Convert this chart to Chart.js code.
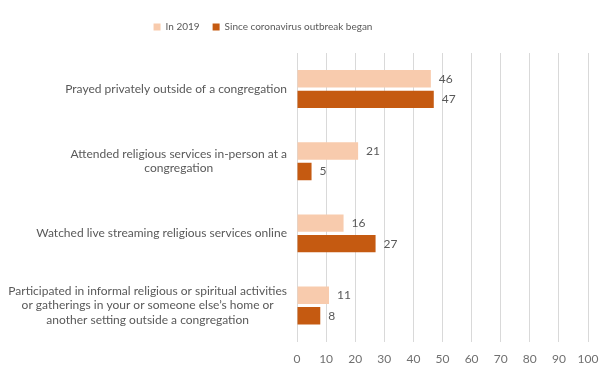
<!DOCTYPE html>
<html>
<head>
<meta charset="utf-8">
<script src="https://cdn.jsdelivr.net/npm/chart.js@4"></script>
<style>
  body { margin: 0; background: #fff; }
  #wrap { width: 612px; height: 374px; }
</style>
</head>
<body>
<div id="wrap"><canvas id="chart"></canvas></div>
<script>
const categories = [
  ["Prayed privately outside of a congregation"],
  ["Attended religious services in-person at a", "congregation"],
  ["Watched live streaming religious services online"],
  ["Participated in informal religious or spiritual activities",
   "or gatherings in your or someone else\u2019s home or",
   "another setting outside a congregation"],
];
const in2019 = [46, 21, 16, 11];
const sinceOutbreak = [47, 5, 27, 8];
const xTicks = [0, 10, 20, 30, 40, 50, 60, 70, 80, 90, 100];

const textColor = "#595959";
const font = { family: "Lato", size: 12, lineHeight: 1.22 };

// one left axis per label group, so single lines sit right-aligned
// and multi-line labels get their lines centred
function labelAxis(show, align, weight, width) {
  return {
    type: "category",
    axis: "y",
    position: "left",
    offset: true,
    weight,
    grid: { display: false, drawTicks: false },
    border: { display: false },
    ticks: {
      autoSkip: false,
      crossAlign: align,
      padding: 10,
      color: textColor,
      font,
      callback: (v, i) => (show.includes(i) ? categories[i] : ""),
    },
    afterFit: (scale) => {
      scale.width = width;
    },
  };
}

// value labels at the end of each bar
const barValues = {
  id: "barValues",
  afterDatasetsDraw(chart) {
    const c = chart.ctx;
    c.save();
    c.fillStyle = textColor;
    c.font = "12px Lato";
    c.textAlign = "left";
    c.textBaseline = "middle";
    chart.data.datasets.forEach((ds, di) => {
      chart.getDatasetMeta(di).data.forEach((bar, i) => {
        c.fillText(ds.data[i], bar.x + 8, bar.y);
      });
    });
    c.restore();
  },
};

const fixLayout = {
  id: "fixLayout",
  afterLayout(chart) {
    // legend sits left of centre and a bit higher in the original
    const lg = chart.legend;
    lg.left -= 31;
    lg.right -= 31;
    lg.top -= 11;
    lg.bottom -= 11;
    // zero-width label axes: widen their box so the labels are not clipped
    chart.scales.y2.left = 0;
    chart.scales.y3.left = 0;
  },
};

new Chart(document.getElementById("chart"), {
  type: "bar",
  data: {
    labels: categories,
    datasets: [
      {
        label: "In 2019",
        data: in2019,
        backgroundColor: "#F8CBAD",
        categoryPercentage: 0.57,
        barPercentage: 0.845,
      },
      {
        label: "Since coronavirus outbreak began",
        data: sinceOutbreak,
        backgroundColor: "#C55A11",
        categoryPercentage: 0.57,
        barPercentage: 0.845,
      },
    ],
  },
  options: {
    indexAxis: "y",
    responsive: true,
    maintainAspectRatio: false,
    animation: false,
    layout: { padding: { top: 20, right: 24, bottom: -2, left: 0 } },
    plugins: {
      legend: {
        position: "top",
        labels: {
          boxWidth: 7,
          boxHeight: 7,
          padding: 13,
          color: textColor,
          font: { family: "Lato", size: 10 },
        },
      },
      tooltip: { enabled: false },
    },
    scales: {
      x: {
        min: 0,
        max: 100,
        afterBuildTicks: (scale) => {
          scale.ticks = xTicks.map((v) => ({ value: v }));
        },
        grid: { color: "#d9d9d9", drawTicks: false },
        border: { display: false },
        ticks: { color: "#707070", font: { family: "Lato", size: 12 }, padding: 10 },
      },
      y: labelAxis([0, 2], "near", 1, 297),
      y2: labelAxis([1], "center", 0, 0),
      y3: labelAxis([3], "center", 0, 0),
    },
  },
  plugins: [barValues, fixLayout],
});
</script>
</body>
</html>
